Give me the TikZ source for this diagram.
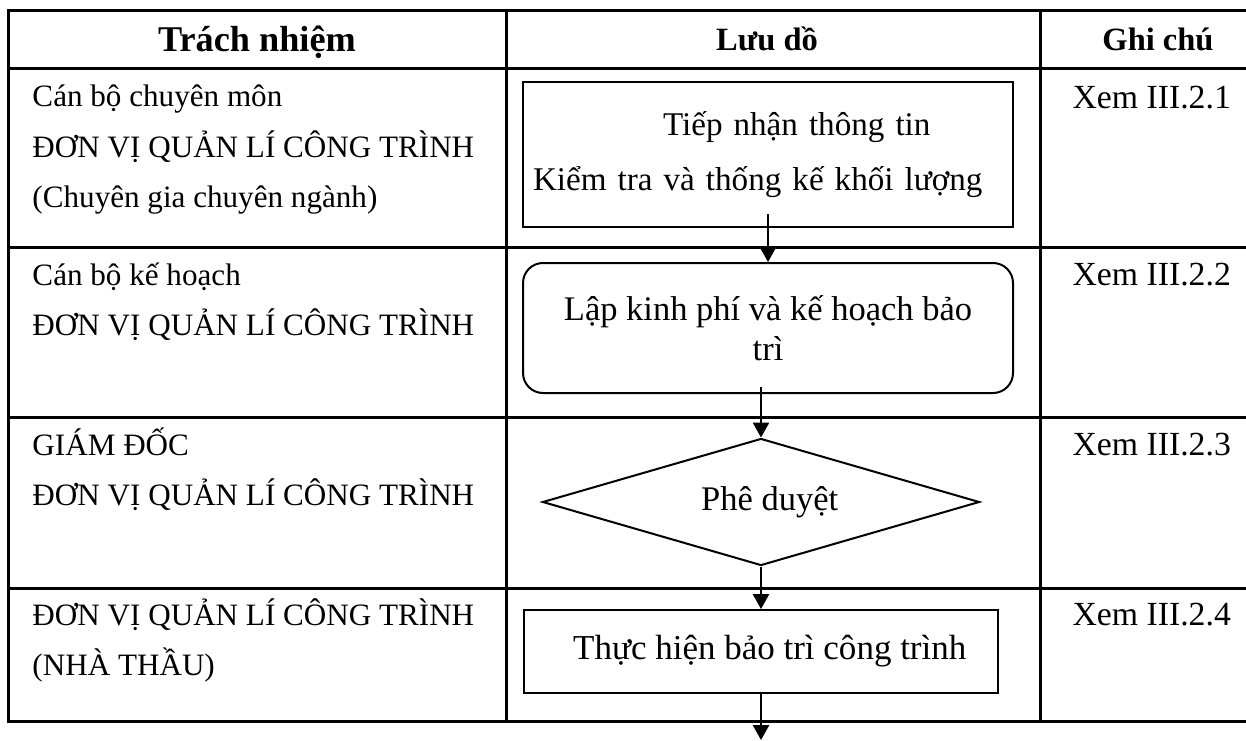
\documentclass[tikz,border=0pt]{standalone}
\usepackage{fontspec}
\setmainfont{Liberation Serif}
\usetikzlibrary{shapes.geometric,arrows.meta}

\tikzset{
  grid/.style={line width=1.2pt},
  cell/.style={anchor=base west, align=left, inner sep=0pt, font=\fontsize{12.45}{20}\selectfont},
  head/.style={anchor=base, inner sep=0pt, font=\fontsize{13}{16}\selectfont\bfseries},
  note/.style={anchor=base west, inner sep=0pt, font=\fontsize{13.5}{16}\selectfont},
  box/.style={draw, line width=0.8pt, font=\fontsize{13.8}{16}\selectfont},
  arr/.style={line width=0.8pt, -{Triangle[length=6pt, width=6.5pt]}}
}

\begin{document}
\begin{tikzpicture}[x=0.4pt, y=-0.4pt]
  \useasboundingbox (0,0) rectangle (1246,740);

  \draw[grid] (8,10) rectangle (1252,721);
  \foreach \y in {68,247,417,588}
    \draw[grid] (8,\y) -- (1252,\y);
  \foreach \x in {506,1040}
    \draw[grid] (\x,10) -- (\x,721);

  \node[head, font=\fontsize{14.5}{16}\selectfont\bfseries] at (257,51) {Trách nhiệm};
  \node[head] at (767,50) {Lưu dồ};
  \node[head] at (1158,50) {Ghi chú};

  \node[cell] (tn1) at (32,207) {Cán bộ chuyên môn\\ĐƠN VỊ QUẢN LÍ CÔNG TRÌNH\\(Chuyên gia chuyên ngành)};
  \node[cell] (tn2) at (32,335) {Cán bộ kế hoạch\\ĐƠN VỊ QUẢN LÍ CÔNG TRÌNH};
  \node[cell] (tn3) at (32,505) {GIÁM ĐỐC\\ĐƠN VỊ QUẢN LÍ CÔNG TRÌNH};
  \node[cell] (tn4) at (32,675) {ĐƠN VỊ QUẢN LÍ CÔNG TRÌNH\\(NHÀ THẦU)};

  \node[note] (gc1) at (1072,108) {Xem III.2.1};
  \node[note] (gc2) at (1072,285) {Xem III.2.2};
  \node[note] (gc3) at (1072,455) {Xem III.2.3};
  \node[note] (gc4) at (1072,625) {Xem III.2.4};

  \node[box, text width=188pt, inner xsep=4pt, align=left, minimum height=58pt,
    font=\fontsize{13.25}{16}\selectfont] (tiep) at (768,154.5)
    {\hspace*{52pt}Tiếp nhận thông tin\\[6pt]Kiểm tra và thống kế khối lượng};
  \node[box, rounded corners=8pt, minimum width=196pt, minimum height=52pt, align=center] (lap) at (768,328)
    {Lập kinh phí và kế hoạch bảo\\trì};
  \node[box, diamond, aspect=3.4, inner sep=0pt, minimum width=174.8pt, minimum height=50.8pt] (duyet) at (761,502)
    {\hspace*{7pt}Phê duyệt};
  \node[box, minimum width=189.6pt, minimum height=33.2pt, font=\fontsize{14}{16}\selectfont] (thuc) at (761,651.5)
    {\hspace*{7pt}Thực hiện bảo trì công trình};
  \coordinate (ra) at (761,740);

  \draw[arr] ([yshift=5.6pt]tiep.south) -- (lap.north);
  \draw[arr] ([shift={(-7,-7)}]lap.south) -- (duyet.north);
  \draw[arr] (duyet.south) -- (thuc.north);
  \draw[arr] (thuc.south) -- (ra);
\end{tikzpicture}
\end{document}
